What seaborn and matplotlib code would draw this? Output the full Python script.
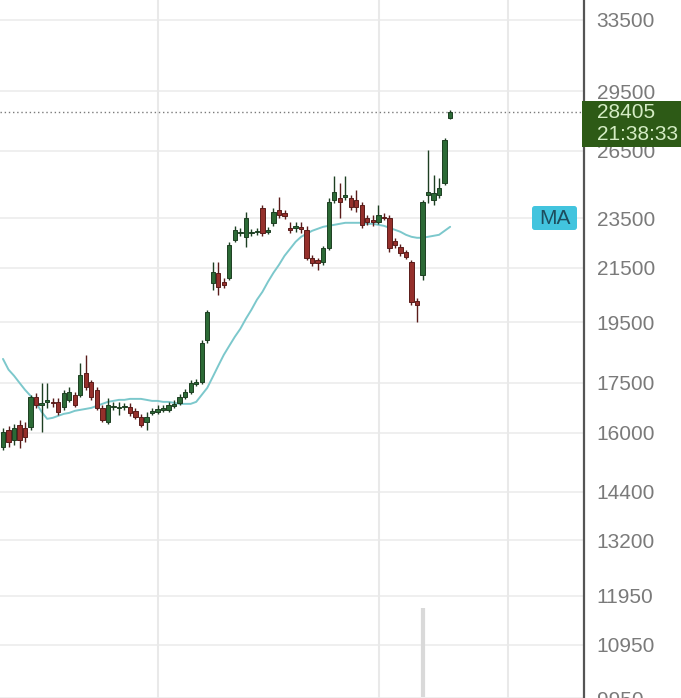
import numpy as np
import pandas as pd
import matplotlib
matplotlib.use("Agg")
import matplotlib.pyplot as plt
from matplotlib.patches import Rectangle, FancyBboxPatch
from matplotlib.ticker import NullLocator, NullFormatter
import seaborn as sns

# %% data (daily candles, log price axis)
opens = [15599, 16081, 15796, 16226, 16139, 16168, 17060, 16817, 16908, 16908,
         16908, 16757, 16969, 17121, 17121, 17809, 17524, 17275, 16727, 16314,
         16757, 16727, 16757, 16757, 16638, 16460, 16314, 16578, 16608, 16668,
         16668, 16787, 16878, 17060, 17213, 17462, 17524, 18893, 20926, 21305,
         20964, 21115, 22601, 22886, 22722, 22886, 22926, 23931, 22926, 23299,
         23846, 23719, 23091, 23091, 23132, 23009, 21885, 21806, 21728, 22280,
         24277, 24364, 24407, 24364, 24277, 24060, 23508, 23424, 23341, 23550,
         23508, 22561, 22320, 22121, 21728, 20263, 21229, 24495, 24277, 24495,
         25026, 28112]
closes = [16024, 15739, 16139, 15796, 15881, 17060, 16817, 16878, 16969, 16878,
          16608, 17182, 17213, 16817, 17745, 17368, 17060, 16727, 16372, 16817,
          16787, 16757, 16787, 16578, 16460, 16226, 16460, 16638, 16697, 16727,
          16817, 16848, 17060, 17213, 17493, 17524, 18792, 19867, 21343, 20777,
          20852, 22400, 23009, 22926, 23508, 22926, 22968, 22886, 23009, 23761,
          23634, 23592, 23009, 23174, 23050, 21885, 21690, 21690, 22280, 24190,
          24627, 24190, 24495, 23974, 23974, 23215, 23341, 23341, 23634, 23508,
          22280, 22400, 22081, 21924, 20227, 20118, 24190, 24627, 24583, 24803,
          27028, 28405]
highs = [16139, 16197, 16255, 16372, 16314, 17121, 17182, 17493, 17493, 17029,
         17029, 17275, 17368, 17213, 18131, 18393, 17587, 17368, 16817, 17029,
         16908, 16908, 16878, 16878, 16727, 16548, 16608, 16727, 16817, 16817,
         16908, 16969, 17152, 17306, 17587, 17619, 18893, 19939, 21728, 21728,
         21115, 22521, 23174, 23091, 23761, 23050, 23091, 24060, 23132, 23931,
         24407, 23846, 23341, 23341, 23341, 23174, 22002, 21885, 22360, 24364,
         25317, 25026, 25317, 24495, 24715, 24190, 23634, 23634, 24060, 23719,
         23634, 22682, 22440, 22200, 21806, 20372, 24277, 26549, 25386, 25249,
         27125, 28520]
lows = [15516, 15599, 15655, 15571, 15739, 16081, 16727, 16024, 16727, 16757,
        16519, 16668, 16908, 16757, 17060, 17275, 16969, 16668, 16314, 16255,
        16668, 16519, 16668, 16490, 16402, 16168, 16081, 16519, 16548, 16608,
        16608, 16727, 16817, 16999, 17152, 17399, 17462, 18792, 20663, 20482,
        20740, 21040, 22521, 22763, 22320, 22763, 22804, 22763, 22845, 23174,
        23508, 23466, 22886, 22926, 22886, 21806, 21574, 21419, 21612, 22200,
        24147, 23508, 24277, 23846, 23761, 23091, 23215, 23174, 23257, 23424,
        22121, 22280, 21963, 21846, 20118, 19514, 21040, 24147, 24060, 24364,
        24937, 28050]
ma_values = [18260, 17913, 17718, 17493, 17275, 17090, 16878, 16608, 16402, 16431,
             16490, 16548, 16578, 16638, 16668, 16697, 16727, 16787, 16848, 16908,
             16938, 16969, 16969, 16999, 16999, 16999, 16969, 16938, 16938, 16908,
             16908, 16878, 16848, 16848, 16848, 16908, 17121, 17337, 17681, 18038,
             18393, 18695, 18998, 19272, 19620, 19939, 20300, 20591, 20963, 21305,
             21612, 21961, 22238, 22518, 22722, 22845, 22968, 23050, 23132, 23174,
             23215, 23257, 23299, 23299, 23299, 23299, 23257, 23257, 23215, 23174,
             23091, 23009, 22926, 22804, 22722, 22682, 22682, 22722, 22763, 22804,
             22968, 23132]

# the one volume bar that pokes up into the visible area
volume_bar_index = 76
volume_bar_top = 11700

tick_prices = [33500, 29500, 26500, 23500, 21500, 19500, 17500, 16000,
               14400, 13200, 11950, 10950, 9950]
date_grid = [28.1, 68.1, 91.5]
last_time = "21:38:33"

df = pd.DataFrame({"open": opens, "high": highs, "low": lows,
                   "close": closes, "ma": ma_values})
df["idx"] = np.arange(len(df))
df["up"] = df["close"] >= df["open"]

# %% styling
sns.set_style("white")
plt.rcParams["font.family"] = ["Liberation Sans", "DejaVu Sans"]

bull, bear = "#2c6a36", "#952f2b"
bull_edge, bear_edge = "#1d3f22", "#5a1c1a"

fig = plt.figure(figsize=(6.81, 6.98), dpi=100)
ax = fig.add_axes([0, 0, 584 / 681, 1])

ymin, ymax = 9959, 34721
ax.set_yscale("log")

# grid
for p in tick_prices:
    ax.axhline(p, color="#ececec", lw=1.2, zorder=0)
for g in date_grid:
    ax.axvline(g, color="#e9e9e9", lw=1.5, zorder=0)

# volume bar
ax.vlines(volume_bar_index, ymin, volume_bar_top, color="#d9d9d9", lw=3, zorder=1)

# last price dotted line
ax.axhline(closes[-1], color="#7a7a7a", lw=1, ls=(0, (1, 2)), zorder=1)

# moving average
sns.lineplot(data=df, x="idx", y="ma", ax=ax, color="#7cc8cc", lw=1.4, zorder=2)

# candles
ax.vlines(df["idx"], df["low"], df["high"],
          colors=np.where(df["up"], bull_edge, bear_edge), lw=1, zorder=3)
bottoms = np.minimum(df["open"], df["close"])
heights = np.maximum((df["close"] - df["open"]).abs(), 20)
ax.bar(df["idx"], heights, bottom=bottoms, width=0.78,
       color=np.where(df["up"], bull, bear),
       edgecolor=np.where(df["up"], bull_edge, bear_edge),
       linewidth=0.7, zorder=4)

ax.set_xlim(-0.54, 105.25)
ax.set_ylim(ymin, ymax)
ax.set_xticks([])
ax.set_xlabel("")
ax.set_ylabel("")

ax.yaxis.tick_right()
ax.set_yticks(tick_prices)
ax.set_yticklabels([str(p) for p in tick_prices])
ax.yaxis.set_minor_locator(NullLocator())
ax.yaxis.set_minor_formatter(NullFormatter())
ax.tick_params(axis="y", length=0, pad=9, labelsize=15, labelcolor="#7a7a7a")

for side in ["top", "left", "bottom"]:
    ax.spines[side].set_visible(False)
ax.spines["right"].set_color("#555555")
ax.spines["right"].set_linewidth(1.6)

# last price tag
fig.add_artist(Rectangle((582 / 681, 1 - 147 / 698), 99 / 681, 46 / 698,
                         transform=fig.transFigure, facecolor="#2d5a16",
                         edgecolor="none", zorder=5))
fig.text(597 / 681, 1 - 113 / 698, str(closes[-1]), color="#d4ecc4",
         fontsize=15, va="center", ha="left", zorder=6)
fig.text(597 / 681, 1 - 134 / 698, last_time, color="#d4ecc4",
         fontsize=15, va="center", ha="left", zorder=6)

# MA badge
fig.add_artist(FancyBboxPatch((532 / 681, 1 - 230 / 698), 45 / 681, 24 / 698,
                              boxstyle="round,pad=0,rounding_size=0.004",
                              transform=fig.transFigure, facecolor="#42c4de",
                              edgecolor="none", zorder=5))
fig.text(554.5 / 681, 1 - 218 / 698, "MA", color="#1d4d5e", fontsize=15,
         ha="center", va="center", zorder=6)

fig.savefig("out.png", dpi=100)
plt.close(fig)
